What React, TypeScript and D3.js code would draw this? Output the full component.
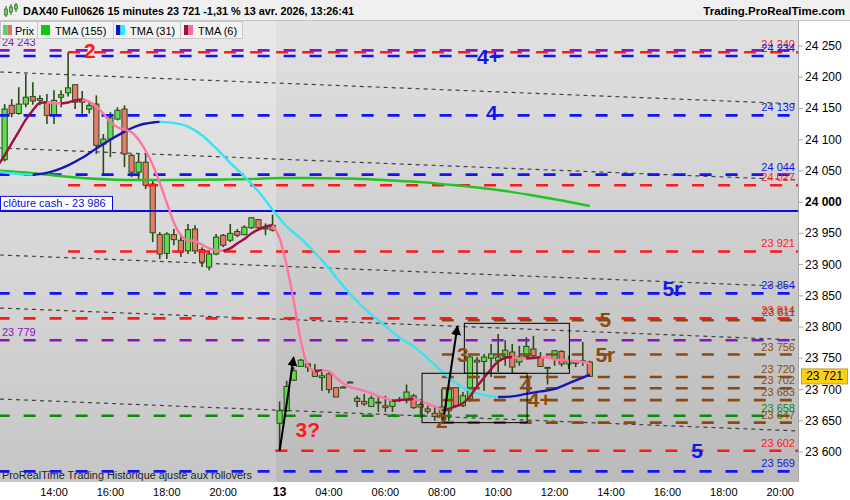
import * as d3 from "d3"

// ---- data ----
// candles: bar index 0 = 14:00 of the previous session, one bar = 15 minutes
const FIRST_BAR = -7
const opens = [
  24068, 24155, 24142, 24157, 24169, 24163, 24160, 24139, 24168, 24175, 24188, 24165, 24149, 24157, 24093, 24101,
  24133, 24149, 24075, 24048, 24064, 24029, 23948, 23918, 23948, 23939, 23922, 23957, 23924, 23896, 23917, 23947,
  23939, 23953, 23948, 23959, 23972, 23957, 23963,
  23646, 23666, 23715, 23737, 23741, 23731, 23719, 23725, 23703, 23704, 23712, 23686, 23681, 23673, 23680, 23674,
  23673, 23683, 23683, 23690, 23676, 23669, 23662, 23662, 23666, 23703, 23674, 23685, 23747, 23745, 23750, 23746,
  23753, 23760, 23744, 23753, 23765, 23752, 23735, 23749, 23761, 23741, 23745, 23746, 23744,
]
const highs = [
  24157, 24165, 24184, 24205, 24192, 24171, 24173, 24179, 24179, 24240, 24188, 24178, 24162, 24171, 24109, 24144,
  24152, 24155, 24077, 24077, 24077, 24037, 23952, 23952, 23957, 23949, 23965, 23963, 23928, 23920, 23949, 23949,
  23965, 23957, 23963, 23976, 23973, 23966, 23980,
  23681, 23714, 23736, 23749, 23742, 23741, 23728, 23730, 23704, 23705, 23713, 23690, 23693, 23690, 23688, 23690,
  23685, 23688, 23708, 23693, 23685, 23674, 23672, 23701, 23706, 23704, 23696, 23754, 23752, 23757, 23773, 23789,
  23779, 23773, 23770, 23784, 23786, 23760, 23736, 23763, 23763, 23754, 23746, 23776, 23746,
]
const lows = [
  24065, 24136, 24140, 24152, 24156, 24155, 24125, 24125, 24152, 24169, 24149, 24137, 24142, 24077, 24045, 24072,
  24131, 24056, 24040, 24037, 24021, 23936, 23909, 23909, 23931, 23912, 23917, 23917, 23896, 23891, 23915, 23928,
  23936, 23944, 23947, 23957, 23957, 23947, 23953,
  23602, 23664, 23714, 23736, 23728, 23720, 23698, 23694, 23688, 23703, 23711, 23672, 23674, 23672, 23664, 23664,
  23664, 23680, 23678, 23669, 23655, 23661, 23650, 23651, 23650, 23672, 23672, 23680, 23704, 23698, 23720, 23728,
  23738, 23725, 23738, 23749, 23752, 23736, 23708, 23738, 23737, 23733, 23736, 23738, 23720,
]
const closes = [
  24149, 24142, 24157, 24168, 24162, 24166, 24139, 24163, 24172, 24183, 24160, 24160, 24155, 24091, 24101, 24135,
  24147, 24077, 24048, 24064, 24027, 23951, 23917, 23949, 23940, 23920, 23956, 23922, 23904, 23917, 23944, 23931,
  23950, 23947, 23960, 23975, 23959, 23959, 23955,
  23666, 23705, 23730, 23747, 23736, 23721, 23722, 23700, 23688, 23704, 23712, 23681, 23677, 23686, 23680, 23671,
  23681, 23684, 23696, 23671, 23672, 23665, 23657, 23672, 23701, 23674, 23690, 23752, 23744, 23752, 23757, 23752,
  23763, 23736, 23752, 23769, 23754, 23737, 23735.5, 23762, 23741, 23746, 23742, 23745, 23721,
]

// TMA (6), one value per bar from bar -8
const TMA6_FIRST = -8
const tma6 = [
  24058, 24075, 24094, 24113, 24132, 24147, 24159, 24160, 24158.7, 24158, 24159.5, 24163, 24164, 24161, 24153, 24142,
  24128, 24120, 24116, 24112, 24100, 24082, 24060, 24031, 23999, 23967, 23947, 23939, 23938, 23932, 23926, 23923,
  23922, 23926, 23934, 23941, 23950, 23956, 23961, 23963, 23942, 23899, 23842, 23778, 23738, 23729, 23731, 23729,
  23719, 23710, 23704, 23701, 23698, 23694, 23689, 23686, 23682, 23683, 23684, 23685, 23682, 23677, 23673, 23667,
  23669, 23673, 23678, 23689, 23705, 23719, 23733, 23745, 23750.5, 23752, 23749.7, 23749.6, 23750.5, 23751.6, 23751.3, 23748,
  23747.3, 23746.5, 23745.7, 23744, 23741.7,
]
// TMA (31), read every two bars
const tma31Bars = [-8, -5, -3, -1, 2, 4, 6, 8, 10, 12, 14, 15, 17, 19, 21, 23, 25, 27, 29, 31, 33, 35, 37, 39, 41, 43, 45, 47, 49, 51, 53, 55, 57, 59, 61, 63, 65, 67, 69, 71, 73, 75, 76]
const tma31 = [
  24049, 24045, 24044, 24047, 24059, 24071, 24086, 24100, 24113, 24123, 24127.5, 24128.6, 24126.7, 24121, 24107, 24086,
  24063, 24041, 24017, 23988, 23961, 23942, 23919, 23894, 23866, 23841, 23820, 23802, 23783, 23769, 23750, 23729, 23710,
  23698, 23691, 23688, 23689, 23693, 23697, 23701, 23710, 23719, 23724,
]
// TMA (155), read every four bars
const tma155Bars = [-8, -4, 0, 4, 8, 12, 16, 20, 24, 28, 32, 36, 40, 44, 48, 52, 56, 60, 64, 68, 72, 76]
const tma155 = [
  24050.7, 24047.5, 24042.7, 24038.7, 24036.3, 24035.5, 24035.5, 24035.8, 24036.3, 24037, 24038.7, 24038.7, 24038,
  24037, 24034.7, 24032, 24028, 24023.5, 24017.9, 24010.6, 24002.7, 23993.8,
]

// horizontal levels: price, kind, bar where the level starts
const levelPrices = [24243, 24240, 24234, 24139, 24044, 24027, 23921, 23854, 23814, 23811, 23779, 23756, 23720, 23702, 23683, 23658, 23647, 23602, 23569]
const levelKinds = ["ext", "res", "tgt", "tgt", "tgt", "res", "res", "tgt", "res", "wave", "ext", "wave", "wave", "wave", "wave", "sup", "wave", "res", "tgt"]
const levelStart = [-8, 2, -8, -8, -8, 2, 2, -8, -8, 55, -8, 55, 55, 55, 55, -8, 55, 31.4, -8]
const CASH_CLOSE = 23986

// channel lines (bar, price) -> (bar, price)
const channelFrom = [24208.4, 24086.7, 23915.4, 23830.5, 23684.8]
const channelTo = [24157.5, 24035.8, 23864.5, 23779.6, 23633.9]
const CHANNEL_BARS = [-7.66, 105.1]

// wave count labels
const waveText = ["2", "4+", "4", "5r", "5", "5r", "3", "4", "4+", "2", "3?", "5"]
const waveKind = ["res", "tgt", "tgt", "tgt", "wave", "wave", "wave", "wave", "wave", "wave", "res", "tgt"]
const waveBar = [5.1, 61.7, 62.1, 87.7, 78.2, 78.2, 58, 67, 68.9, 55, 36, 91.2]
const wavePrice = [24230.8, 24221.2, 24131.5, 23849.7, 23800.1, 23744, 23744, 23696, 23672, 23638.4, 23624.4, 23590.4]

// boxes [barFrom, barTo, priceLow, priceHigh]
const boxes = [
  [52.2, 67.1, 23647, 23726],
  [58.2, 73.1, 23726, 23806],
]
// arrows [barFrom, priceFrom, barTo, priceTo]
const arrows = [
  [32, 23602, 33.97, 23750.5],
  [55.2, 23649.6, 57.2, 23800],
]

const timeTickBars = [0, 8, 16, 24, 32, 39, 47, 55, 63, 71, 79, 87, 95, 103]
const timeTickLabels = ["14:00", "16:00", "18:00", "20:00", "13", "04:00", "06:00", "08:00", "10:00", "12:00", "14:00", "16:00", "18:00", "20:00"]
const priceTicks = d3.range(23600, 24251, 50)
const LAST = 23721

// ---- styles ----
const KIND_COLOR: Record<string, string> = {
  ext: "#8a12c8",
  res: "#ff1a1a",
  tgt: "#1414f0",
  wave: "#8b4a10",
  sup: "#0a8a0a",
}
const FONT = "'Liberation Sans', Arial, sans-serif"
const PLOT = { left: 0, right: 798, top: 20, bottom: 482 }

const fmt = (v: number) => d3.format(",")(Math.round(v)).replace(/,/g, " ")

function colorRuns(bars: number[], vals: number[]) {
  const out: { up: boolean; pts: [number, number][] }[] = []
  for (let i = 0; i < vals.length - 1; i++) {
    const up = vals[i + 1] >= vals[i]
    const last = out[out.length - 1]
    if (last && last.up === up) last.pts.push([bars[i + 1], vals[i + 1]])
    else out.push({ up, pts: [[bars[i], vals[i]], [bars[i + 1], vals[i + 1]]] })
  }
  return out
}

export default function App() {
  const x = d3.scaleLinear().domain([0, 103]).range([54, 780.2])
  const y = d3.scaleLinear().domain([23600, 24250]).range([452, 46])

  const line = d3
    .line<[number, number]>()
    .x(d => x(d[0]))
    .y(d => y(d[1]))
    .curve(d3.curveMonotoneX)

  const tma6Bars = tma6.map((_, i) => TMA6_FIRST + i)
  const pinkRuns = colorRuns(tma6Bars, tma6)
  const blueRuns = colorRuns(tma31Bars, tma31)

  const candles = opens.map((o, i) => ({
    bar: FIRST_BAR + i,
    o,
    h: highs[i],
    l: lows[i],
    c: closes[i],
  }))

  return (
    <svg
      width={850}
      height={500}
      style={{ position: "absolute", left: 0, top: 0, fontFamily: FONT }}
    >
      <defs>
        <linearGradient id="bg" x1="0" y1="0" x2="0" y2="1">
          <stop offset="0%" stopColor="#e1e1e1" />
          <stop offset="100%" stopColor="#bababa" />
        </linearGradient>
        <linearGradient id="bgPrev" x1="0" y1="0" x2="0" y2="1">
          <stop offset="0%" stopColor="#e9e9e9" />
          <stop offset="100%" stopColor="#c6c6c6" />
        </linearGradient>
        <clipPath id="plot">
          <rect x={PLOT.left} y={PLOT.top} width={PLOT.right - PLOT.left} height={PLOT.bottom - PLOT.top} />
        </clipPath>
        <marker id="head" viewBox="0 0 10 10" refX="8" refY="5" markerWidth="5" markerHeight="5" orient="auto">
          <path d="M0,0 L10,5 L0,10 z" fill="#000" />
        </marker>
      </defs>

      <rect width={850} height={500} fill="#fff" />
      {/* plot background */}
      <rect x={0} y={PLOT.top} width={PLOT.right} height={PLOT.bottom - PLOT.top} fill="url(#bg)" />
      <rect x={0} y={PLOT.top} width={x(31.5)} height={PLOT.bottom - PLOT.top} fill="url(#bgPrev)" />

      <g clipPath="url(#plot)">
        {/* channel lines */}
        {channelFrom.map((p, i) => (
          <line
            key={"ch" + i}
            x1={x(CHANNEL_BARS[0])}
            y1={y(p)}
            x2={x(CHANNEL_BARS[1])}
            y2={y(channelTo[i])}
            stroke="#2a2a2a"
            strokeWidth={1.2}
            strokeDasharray="4,4"
            opacity={0.85}
          />
        ))}

        {/* candles */}
        {candles.map(d => {
          const up = d.c >= d.o
          const top = y(Math.max(d.o, d.c))
          const bh = Math.max(1, Math.abs(y(d.o) - y(d.c)))
          return (
            <g key={"c" + d.bar}>
              <line x1={x(d.bar)} x2={x(d.bar)} y1={y(d.h)} y2={y(d.l)} stroke="#2b4a16" strokeWidth={1.6} />
              <rect
                x={x(d.bar) - 2.6}
                y={top}
                width={5.2}
                height={bh}
                fill={up ? "#5fdc52" : "#e67b6a"}
                stroke="#2b4a16"
                strokeWidth={1}
              />
            </g>
          )
        })}

        {/* levels */}
        {levelPrices.map((p, i) => (
          <line
            key={"lv" + i}
            x1={x(levelStart[i])}
            x2={PLOT.right}
            y1={y(p)}
            y2={y(p)}
            stroke={KIND_COLOR[levelKinds[i]]}
            strokeWidth={2.6}
            strokeDasharray="12,14"
          />
        ))}

        {/* cash close */}
        <line x1={0} x2={PLOT.right} y1={y(CASH_CLOSE)} y2={y(CASH_CLOSE)} stroke="#0a0ae6" strokeWidth={2} />

        {/* moving averages */}
        <path
          d={line(tma155Bars.map((b, i) => [b, tma155[i]] as [number, number])) || ""}
          fill="none"
          stroke="#22c322"
          strokeWidth={2.4}
        />
        {blueRuns.map((r, i) => (
          <path key={"b" + i} d={line(r.pts) || ""} fill="none" stroke={r.up ? "#1616b4" : "#36e4f4"} strokeWidth={2.4} />
        ))}
        {pinkRuns.map((r, i) => (
          <path key={"p" + i} d={line(r.pts) || ""} fill="none" stroke={r.up ? "#a0103e" : "#ff75a0"} strokeWidth={2.4} />
        ))}

        {/* boxes */}
        {boxes.map((b, i) => (
          <rect
            key={"bx" + i}
            x={x(b[0])}
            y={y(b[3])}
            width={x(b[1]) - x(b[0])}
            height={y(b[2]) - y(b[3])}
            fill="none"
            stroke="#000"
            strokeWidth={1}
          />
        ))}

        {/* arrows */}
        {arrows.map((a, i) => (
          <line
            key={"ar" + i}
            x1={x(a[0])}
            y1={y(a[1])}
            x2={x(a[2])}
            y2={y(a[3])}
            stroke="#000"
            strokeWidth={2}
            markerEnd="url(#head)"
          />
        ))}

        {/* wave labels */}
        {waveText.map((t, i) => (
          <text
            key={"w" + i}
            x={x(waveBar[i])}
            y={y(wavePrice[i])}
            textAnchor="middle"
            fontSize={21}
            fontWeight="bold"
            fill={KIND_COLOR[waveKind[i]]}
          >
            {t}
          </text>
        ))}

        {/* level values */}
        {levelPrices.map((p, i) =>
          levelKinds[i] === "ext" ? (
            <text key={"lt" + i} x={2} y={y(p) - 4} fontSize={11} fill={KIND_COLOR.ext}>
              {fmt(p)}
            </text>
          ) : (
            <text key={"lt" + i} x={795} y={y(p) - 4} fontSize={11} textAnchor="end" fill={KIND_COLOR[levelKinds[i]]}>
              {fmt(p)}
            </text>
          )
        )}

        {/* cash close label */}
        <rect x={0.5} y={y(CASH_CLOSE) - 14.5} width={112} height={14} fill="#fff" stroke="#0a0ae6" strokeWidth={1} />
        <text x={3} y={y(CASH_CLOSE) - 3.5} fontSize={11} fill="#0a0ae6">
          {"clôture cash -  " + fmt(CASH_CLOSE)}
        </text>

        <text x={2} y={479} fontSize={10} fill="#222" textLength={250} lengthAdjust="spacingAndGlyphs">
          ProRealTime Trading Historique ajusté aux rollovers
        </text>
      </g>

      {/* price axis */}
      <line x1={PLOT.right + 0.5} x2={PLOT.right + 0.5} y1={PLOT.top} y2={PLOT.bottom} stroke="#a8a8a8" />
      {priceTicks.map(p => (
        <g key={"pt" + p}>
          <line x1={PLOT.right} x2={PLOT.right + 5} y1={y(p)} y2={y(p)} stroke="#a8a8a8" />
          <text
            x={805}
            y={y(p) + 4}
            fontSize={12}
            fontWeight={p === 24000 ? "bold" : "normal"}
            fill="#000"
          >
            {fmt(p)}
          </text>
        </g>
      ))}
      <rect x={801.5} y={y(LAST) - 7.5} width={46} height={15} fill="#ffcf14" stroke="#b8a050" />
      <text x={824.5} y={y(LAST) + 4} fontSize={12} textAnchor="middle" fill="#000">
        {fmt(LAST)}
      </text>

      {/* time axis */}
      {timeTickBars.map((b, i) => (
        <text
          key={"tt" + i}
          x={x(b)}
          y={496}
          fontSize={timeTickLabels[i] === "13" ? 12.5 : 11}
          fontWeight={timeTickLabels[i] === "13" ? "bold" : "normal"}
          textAnchor="middle"
          fill="#000"
        >
          {timeTickLabels[i]}
        </text>
      ))}

      {/* title bar */}
      <rect x={0} y={0} width={850} height={20} fill="#f0f0f0" />
      <line x1={0} x2={850} y1={20.5} y2={20.5} stroke="#c4c4c4" />
      <g>
        <line x1={6} x2={6} y1={6} y2={17} stroke="#2b4a16" />
        <rect x={4.5} y={9} width={3} height={6} fill="#5fdc52" stroke="#2b4a16" strokeWidth={0.6} />
        <line x1={11} x2={11} y1={4} y2={15} stroke="#2b4a16" />
        <rect x={9.5} y={7} width={3} height={5} fill="#5fdc52" stroke="#2b4a16" strokeWidth={0.6} />
        <line x1={16} x2={16} y1={3} y2={12} stroke="#2b4a16" />
        <rect x={14.5} y={5} width={3} height={4} fill="#5fdc52" stroke="#2b4a16" strokeWidth={0.6} />
      </g>
      <text x={23} y={15} fontSize={11.5} fontWeight="bold" fill="#000" textLength={331} lengthAdjust="spacingAndGlyphs">
        DAX40 Full0626 15 minutes 23 721 -1,31 % 13 avr. 2026, 13:26:41
      </text>
      <text x={845} y={15} fontSize={11.5} fontWeight="bold" fill="#000" textAnchor="end">
        Trading.ProRealTime.com
      </text>

      {/* legend */}
      <g fontSize={11}>
        <rect x={0.5} y={21.5} width={37} height={17} fill="#f2f2f2" stroke="#c8c8c8" />
        <rect x={3} y={25} width={4.5} height={10} fill="#5fd05f" />
        <rect x={7.5} y={25} width={4.5} height={10} fill="#e07070" />
        <text x={15} y={34.5}>Prix</text>

        <rect x={37.5} y={21.5} width={76} height={17} fill="#f2f2f2" stroke="#c8c8c8" />
        <rect x={41} y={25} width={9} height={10} fill="#10c810" />
        <text x={55} y={34.5}>TMA (155)</text>

        <rect x={113.5} y={21.5} width={67} height={17} fill="#f2f2f2" stroke="#c8c8c8" />
        <rect x={116} y={25} width={4.5} height={10} fill="#1010d0" />
        <rect x={120.5} y={25} width={4.5} height={10} fill="#20f0ff" />
        <text x={130} y={34.5}>TMA (31)</text>

        <rect x={180.5} y={21.5} width={62} height={17} fill="#f2f2f2" stroke="#c8c8c8" />
        <rect x={184} y={25} width={4.5} height={10} fill="#a01040" />
        <rect x={188.5} y={25} width={4.5} height={10} fill="#ff6a90" />
        <text x={198} y={34.5}>TMA (6)</text>
      </g>
    </svg>
  )
}
